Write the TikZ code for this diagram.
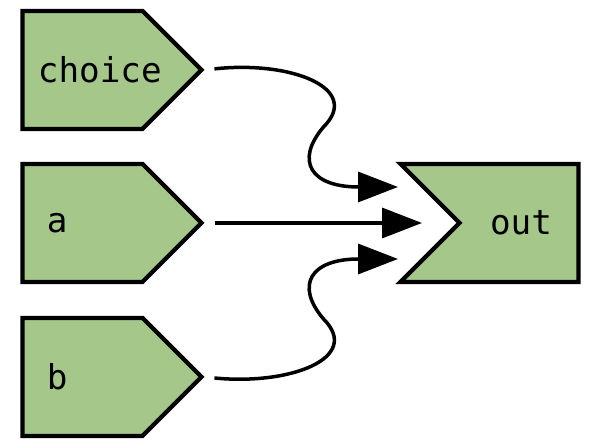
\documentclass[tikz,border=0pt]{standalone}
\usepackage{fontspec}
\setmonofont{DejaVu Sans Mono}
\usetikzlibrary{shapes.symbols,arrows.meta}
\definecolor{boxgreen}{HTML}{A5C78A}
\begin{document}
\begin{tikzpicture}[line width=0.07cm,
        every node/.style = {font = {\ttfamily\fontsize{19.5}{22}\selectfont}},
        inbox/.style = {signal,signal to=east,signal pointer angle=90,draw,fill=boxgreen,line width=0.085cm,
            minimum width=3.58cm,minimum height=2.36cm,inner sep=0pt},
        outbox/.style = {signal,signal from=west,signal to=nowhere,signal pointer angle=90,draw,fill=boxgreen,line width=0.085cm,
            minimum width=3.56cm,minimum height=2.36cm,inner sep=0pt},
        wire/.style = {-{Triangle[length=0.8cm,width=0.6cm]},shorten <=0.2cm}]
        \useasboundingbox (0,0) rectangle (11.8,8.96);
        % inputs
        \node[inbox] (choice) at (1.65,7.56) {};
        \node[inbox] (a) at (1.65,4.5) {};
        \node[inbox] (b) at (1.65,1.42) {};
        \node[anchor=west] (choice-txt) at ([xshift=0.2cm]choice.west) {choice};
        \node[anchor=west] (a-txt) at ([xshift=0.38cm]a.west) {a};
        \node[anchor=west] (b-txt) at ([xshift=0.38cm]b.west) {b};
        % output
        \node[outbox] (out) at (10.38,4.5) {};
        \node (out-txt) at ([xshift=0.04cm]out.center) {out};

        \draw[wire] (choice.east) .. controls (5.8,7.75) and (7.25,7.2) .. (6.47,6.42)
            .. controls (5.9,5.75) and (6.2,5.22) .. ([shift={(-2.42,0.72)}]out.center);
        \draw[wire] (a.east) -- ([xshift=-1.94cm]out.center);
        \draw[wire] (b.east) .. controls (5.8,1.25) and (7.25,1.8) .. (6.47,2.58)
            .. controls (5.9,3.25) and (6.2,3.78) .. ([shift={(-2.42,-0.72)}]out.center);
\end{tikzpicture}
\end{document}
